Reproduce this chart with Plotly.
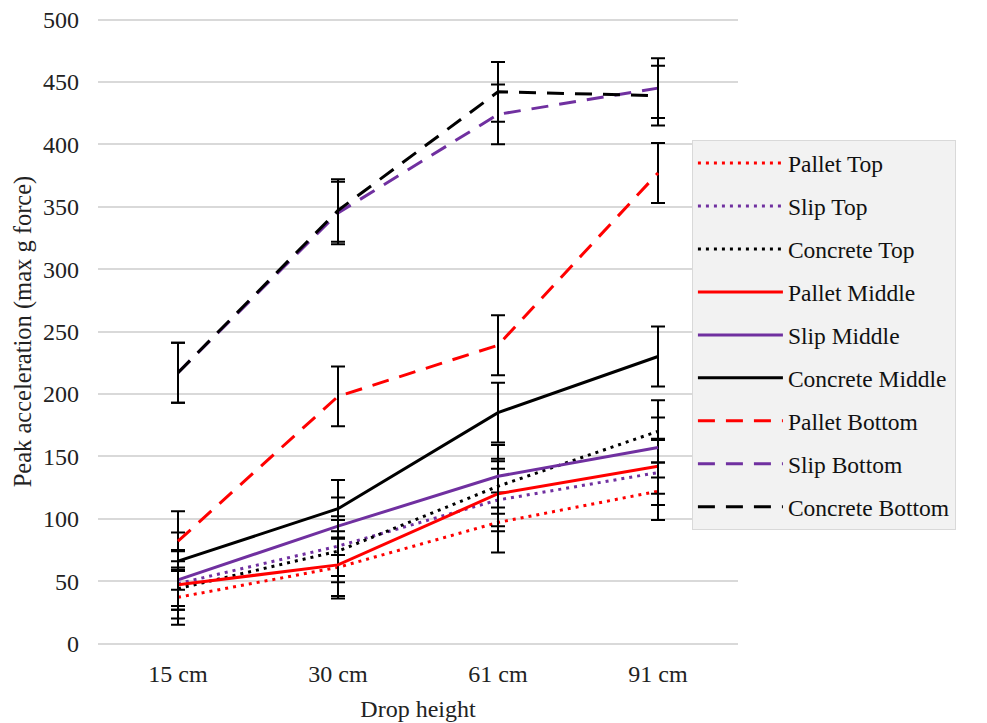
import plotly.graph_objects as go

heights = ["15 cm", "30 cm", "61 cm", "91 cm"]

pallet_top = [37, 61, 97, 122]
slip_top = [48, 78, 115, 137]
concrete_top = [44, 74, 126, 170]
pallet_middle = [47, 63, 120, 142]
slip_middle = [51, 94, 134, 157]
concrete_middle = [66, 108, 185, 230]
pallet_bottom = [82, 198, 239, 377]
slip_bottom = [217, 345, 424, 445]
concrete_bottom = [217, 347, 442, 439]

pallet_top_err = [22, 23, 24, 23]
slip_top_err = [18, 24, 25, 26]
concrete_top_err = [17, 25, 22, 25]
pallet_middle_err = [27, 27, 26, 22]
slip_middle_err = [24, 23, 25, 24]
concrete_middle_err = [23, 23, 24, 24]
pallet_bottom_err = [24, 24, 24, 24]
slip_bottom_err = [24, 25, 24, 24]
concrete_bottom_err = [24, 25, 24, 24]

y_ticks = [0, 50, 100, 150, 200, 250, 300, 350, 400, 450, 500]

RED = "#FF0000"
PURPLE = "#7030A0"
BLACK = "#000000"
DOT = "3px,5px"
DASH = "17px,11px"

series = [
    ("Pallet Top", pallet_top, pallet_top_err, RED, DOT),
    ("Slip Top", slip_top, slip_top_err, PURPLE, DOT),
    ("Concrete Top", concrete_top, concrete_top_err, BLACK, DOT),
    ("Pallet Middle", pallet_middle, pallet_middle_err, RED, "solid"),
    ("Slip Middle", slip_middle, slip_middle_err, PURPLE, "solid"),
    ("Concrete Middle", concrete_middle, concrete_middle_err, BLACK, "solid"),
    ("Pallet Bottom", pallet_bottom, pallet_bottom_err, RED, DASH),
    ("Slip Bottom", slip_bottom, slip_bottom_err, PURPLE, DASH),
    ("Concrete Bottom", concrete_bottom, concrete_bottom_err, BLACK, DASH),
]

fig = go.Figure()
for i, (name, vals, errs, color, dash) in enumerate(series):
    fig.add_trace(go.Scatter(
        x=heights, y=vals, name=name, mode="lines",
        line=dict(color=color, width=3, dash=dash),
        legendgroup=f"g{i}",
        error_y=dict(type="data", array=errs, visible=True,
                     color="black", thickness=2, width=7),
    ))

FONT = "Liberation Serif, Times New Roman, serif"

# y range padded slightly so that the 0 and 500 gridlines are drawn
Y_MIN, Y_MAX = -2, 502
PLOT_H = 504 * 1.25  # 630 px

fig.update_layout(
    width=987, height=723,
    margin=dict(l=90, r=257, t=8.5, b=84.5),
    paper_bgcolor="white", plot_bgcolor="white",
    font=dict(family=FONT, size=24, color="#222222"),
    showlegend=True,
    legend=dict(
        x=0.928, y=(644 + 2.5 - 140) / PLOT_H, xanchor="left", yanchor="top",
        bgcolor="#F2F2F2", bordercolor="#D9D9D9", borderwidth=1,
        font=dict(family=FONT, size=23.5, color="#111111"),
        tracegroupgap=9.4,
        itemwidth=85,
        entrywidth=290, entrywidthmode="pixels",
    ),
    xaxis=dict(
        type="category",
        range=[-0.5, 3.5],
        showgrid=False, showline=False, zeroline=False,
        automargin=False,
        ticks="", ticklabelstandoff=11,
        title=dict(text="Drop height", standoff=14,
                   font=dict(family=FONT, size=24)),
        tickfont=dict(family=FONT, size=24),
    ),
    yaxis=dict(
        range=[Y_MIN, Y_MAX],
        tickmode="array", tickvals=y_ticks,
        showgrid=True, gridcolor="#D9D9D9", gridwidth=1.5,
        zeroline=False, showline=False,
        automargin=False,
        ticks="", ticklabelstandoff=18,
        ticklabeloverflow="allow",
        title=dict(text="Peak acceleration (max g force)", standoff=4,
                   font=dict(family=FONT, size=24.5)),
        tickfont=dict(family=FONT, size=24),
    ),
)

fig.write_html("out.html")
